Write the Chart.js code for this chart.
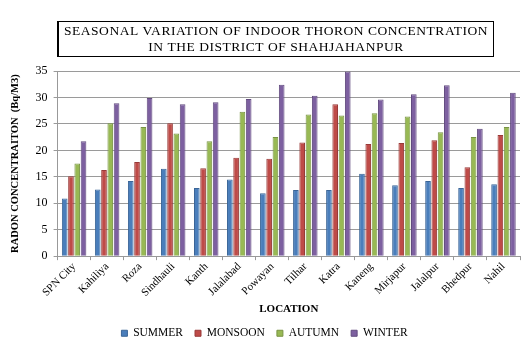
<!DOCTYPE html>
<html>
<head>
<meta charset="utf-8">
<script src="https://cdn.jsdelivr.net/npm/chart.js@4"></script>
<style>
  html, body { margin: 0; padding: 0; background: #fff; }
  #wrap { width: 530px; height: 337px; position: relative; }
</style>
</head>
<body>
<div id="wrap"><canvas id="chart"></canvas></div>
<script>
const locations = ["SPN City", "Kahiliya", "Roza", "Sindhauli", "Kanth", "Jalalabad", "Powayan",
  "Tilhar", "Katra", "Kaneng", "Mirjapur", "Jalalpur", "Bhedpur", "Nahil"];
const summer = [10.9, 12.6, 14.2, 16.5, 12.9, 14.5, 11.9, 12.5, 12.5, 15.6, 13.4, 14.2, 12.9, 13.6];
const monsoon = [15.1, 16.3, 17.8, 25.1, 16.6, 18.6, 18.4, 21.5, 28.7, 21.2, 21.4, 21.9, 16.8, 22.9];
const autumn = [17.5, 25.1, 24.4, 23.2, 21.7, 27.3, 22.5, 26.8, 26.6, 27.0, 26.4, 23.4, 22.5, 24.4];
const winter = [21.7, 28.9, 29.9, 28.7, 29.1, 29.7, 32.4, 30.3, 34.9, 29.6, 30.6, 32.3, 24.1, 30.9];
const seriesNames = ["SUMMER", "MONSOON", "AUTUMN", "WINTER"];
const titleLines = ["SEASONAL VARIATION OF INDOOR THORON CONCENTRATION", "IN THE DISTRICT OF SHAHJAHANPUR"];

const serif = "'Liberation Serif', 'DejaVu Serif', serif";
const colours = ["#4a7ebb", "#be4b48", "#98b954", "#7d60a0"];
const borders = ["#3a6597", "#983a38", "#789343", "#624b7f"];

// boxed title drawn above the chart area
const boxedTitle = {
  id: "boxedTitle",
  afterDraw(chart) {
    const ctx = chart.ctx;
    ctx.save();
    ctx.font = "13.5px " + serif;
    ctx.fillStyle = "#000";
    ctx.textAlign = "center";
    ctx.textBaseline = "middle";
    // stretch the first line to the reference width
    const w = ctx.measureText(titleLines[0]).width;
    const spacing = Math.max(0, (424 - w) / titleLines[0].length);
    ctx.letterSpacing = spacing + "px";
    const cx = 276;
    ctx.fillText(titleLines[0], cx, 31);
    ctx.fillText(titleLines[1], cx, 47);
    ctx.strokeStyle = "#000";
    ctx.lineWidth = 1;
    ctx.strokeRect(57.5, 21.5, 436, 35);
    ctx.lineWidth = 2;
    ctx.beginPath();
    ctx.moveTo(58, 21); ctx.lineTo(58, 57);
    ctx.stroke();
    ctx.restore();
  }
};

const datasets = [summer, monsoon, autumn, winter].map((vals, i) => ({
  label: seriesNames[i],
  data: vals,
  backgroundColor: colours[i],
  borderColor: borders[i],
  borderWidth: 1,
  categoryPercentage: 0.76,
  barPercentage: 0.9,
}));

new Chart(document.getElementById("chart"), {
  type: "bar",
  data: { labels: locations, datasets: datasets },
  plugins: [boxedTitle],
  options: {
    responsive: true,
    maintainAspectRatio: false,
    animation: false,
    layout: { padding: { top: 71, right: 10, left: 9, bottom: -12 } },
    plugins: {
      legend: {
        position: "bottom",
        labels: {
          font: { family: serif, size: 11.5 },
          color: "#000",
          boxWidth: 6,
          boxHeight: 6,
          padding: 12,
        },
      },
      tooltip: { enabled: false },
    },
    scales: {
      x: {
        grid: { display: true, drawOnChartArea: false, tickLength: 4, color: "#999", offset: true },
        border: { color: "#999" },
        ticks: {
          font: { family: serif, size: 11 },
          color: "#000",
          minRotation: 45,
          maxRotation: 45,
          padding: 0,
        },
        title: {
          display: true,
          text: "LOCATION",
          font: { family: serif, size: 11, weight: "bold" },
          color: "#000",
          padding: { top: 3, bottom: 0 },
        },
      },
      y: {
        min: 0,
        max: 35,
        ticks: {
          stepSize: 5,
          font: { family: serif, size: 12 },
          color: "#000",
          padding: 6,
        },
        grid: { color: "#9a9a9a", tickLength: 4 },
        border: { color: "#999" },
        title: {
          display: true,
          text: "RADON CONCENTRAITON  (Bq/M3)",
          font: { family: serif, size: 10.5, weight: "bold" },
          color: "#000",
          padding: { top: 0, bottom: 8 },
        },
      },
    },
  },
});
</script>
</body>
</html>
